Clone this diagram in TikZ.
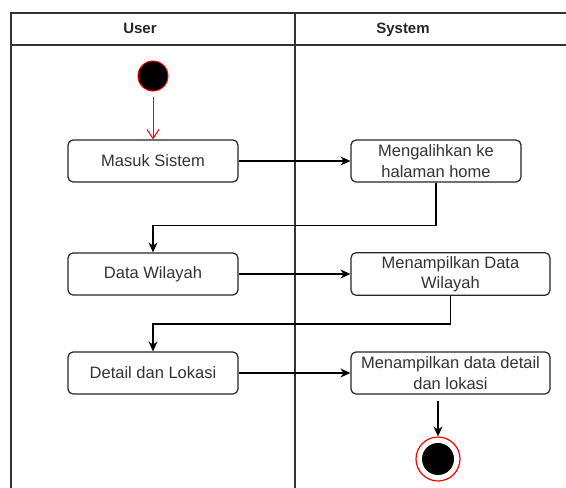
\documentclass[tikz,border=0pt]{standalone}
\usepackage{fontspec}
\setmainfont{Liberation Sans}
\usetikzlibrary{arrows.meta, positioning}
\tikzset{
  lane/.style = {line width=1.3pt, draw=black!80},
  act/.style = {draw=black!85, line width=1.2pt, rounded corners=5pt, fill=white,
    minimum height=42pt, text=black!80, align=center,
    font=\fontsize{16.5}{20.5}\selectfont},
  flow/.style = {line width=1.3pt, -{Stealth[length=10pt, width=9pt]}},
  start/.style = {circle, draw=red, fill=black, line width=1pt, minimum size=30pt, inner sep=0pt},
  stop/.style = {circle, draw=red, fill=white, line width=1.2pt, minimum size=44pt, inner sep=0pt,
    path picture={\fill[black] (path picture bounding box.center) circle (16pt);}},
  head/.style = {font=\bfseries\fontsize{15}{18}\selectfont, text=black!85,
    text height=11pt, text depth=3pt}
}
\begin{document}
\begin{tikzpicture}[x=1pt, y=-1pt]
\useasboundingbox (0,0) rectangle (566,488);
% swimlanes
\draw[lane] (11,488) -- (11,13) -- (580,13);
\draw[lane] (11,45) -- (580,45);
\draw[lane] (295,13) -- (295,488);
\node[head] (user) at (140,29) {User};
\node[head] (system) at (403,29) {System};

\node[start] (mulai) at (153,76) {};
\node[act, minimum width=170pt] (masuk) at (153,161) {Masuk Sistem};
\node[act, minimum width=170pt] (home) at (436,161) {Mengalihkan ke\\halaman home};
\node[act, minimum width=170pt] (wilayah) at (153,274) {Data Wilayah};
\node[act, minimum width=199pt] (tampilwil) at (450.5,274) {Menampilkan Data\\Wilayah};
\node[act, minimum width=170pt] (detail) at (153,373) {Detail dan Lokasi};
\node[act, minimum width=199pt] (tampildet) at (450.5,373) {Menampilkan data detail\\dan lokasi};
\node[stop] (akhir) at (438,459) {};

\draw[red, line width=1pt, -{Straight Barb[length=9pt, width=12pt]}, shorten <=5pt] (mulai) -- (masuk);
\draw[flow] (masuk) -- (home);
\draw[flow] (home.south) -- ++(0,43) -| (wilayah.north);
\draw[flow] (wilayah) -- (tampilwil);
\draw[flow] (tampilwil.south) -- ++(0,28) -| (detail.north);
\draw[flow] (detail) -- (tampildet);
\draw[flow, shorten <=6pt] (tampildet.south -| akhir.north) -- (akhir.north);
\end{tikzpicture}
\end{document}
